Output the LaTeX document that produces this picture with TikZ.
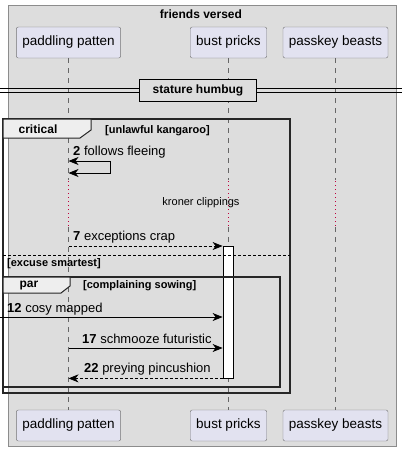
\documentclass[tikz,border=0pt]{standalone}
\usepackage{fontspec}
\setmainfont{Liberation Sans}
\usetikzlibrary{arrows.meta,positioning}
\definecolor{groupfill}{HTML}{DDDDDD}
\definecolor{actorfill}{HTML}{E2E2F0}
\definecolor{tabfill}{HTML}{EEEEEE}
\definecolor{delayred}{HTML}{C0003C}

\begin{document}
\begin{tikzpicture}[x=1pt,y=-1pt,
	actor/.style={draw=black!55, fill=actorfill, rounded corners=2pt, minimum height=31pt, inner xsep=6pt, font=\fontsize{13.5}{15}\selectfont},
	life/.style={draw=black!60, line width=0.6pt, dash pattern=on 5pt off 5pt},
	delay/.style={draw=delayred, line width=1pt, dash pattern=on 1pt off 3pt},
	msgtxt/.style={anchor=west, inner sep=0pt, font=\fontsize{13}{15}\selectfont},
	msg/.style={line width=0.8pt, -{Stealth[length=10pt,width=8pt,inset=3pt]}},
	frame/.style={draw=black!85, line width=1.6pt},
	tab/.style={draw=black!85, line width=1pt, fill=tabfill},
	guard/.style={anchor=west, inner sep=0pt, font=\bfseries\fontsize{11}{13}\selectfont},
	actbar/.style={draw=black, fill=white, line width=0.8pt, minimum width=10pt, inner sep=0pt}]
			%%%%% START %%%%%
			\useasboundingbox (0,0) rectangle (402,451);
			
			\draw[fill=groupfill, draw=black!45] (8,5) rectangle (396,446);
			\node[font=\bfseries\fontsize{12}{14}\selectfont] (title) at (201,14) {friends versed};
			
			\node[actor] (pp) at (68.5,42.5) {paddling patten};
			\node[actor] (bp) at (228.5,42.5) {bust pricks};
			\node[actor] (pk) at (335.5,42.5) {passkey beasts};
			\node[actor] (ppb) at (68.5,425.5) {paddling patten};
			\node[actor] (bpb) at (228.5,425.5) {bust pricks};
			\node[actor] (pkb) at (335.5,425.5) {passkey beasts};
			
			% lifelines, red dotted where the delay is
			\foreach \t/\b in {pp/ppb, bp/bpb, pk/pkb}{
				\draw[life] (\t.south) -- (\t |- 0,180);
				\draw[delay] (\t |- 0,181) -- (\t |- 0,226);
				\draw[life] (\t |- 0,227) -- (\b.north);
			}
			
			\draw[line width=0.8pt] (0,88.5) -- (402,88.5);
			\draw[line width=0.8pt] (0,92) -- (402,92);
			\node[draw=black, line width=1.6pt, fill=groupfill, minimum width=117pt, minimum height=22pt, font=\bfseries\fontsize{12}{14}\selectfont] (div) at (198,90.5) {stature humbug};
			
			\draw[frame] (3,119) rectangle (290,393);
			\draw[tab] (3,119) -- (91,119) -- (91,130) -- (80,138) -- (3,138) -- cycle;
			\node[font=\bfseries\fontsize{12}{14}\selectfont] (crit) at (38,129) {critical};
			\node[guard] (g1) at (105,131) {[unlawful kangaroo]};
			
			\node[msgtxt] (m2) at (73,152) {\textbf{2} follows fleeing};
			\draw[msg] (110,161) -- (pp |- 0,161);
			\draw[msg] (110,161) -- (110,173) -- (pp |- 0,173);
			
			\node[font=\fontsize{11}{13}\selectfont] (kc) at (201,203) {kroner clippings};
			
			\node[actbar, minimum height=132pt] (act) at (228,312) {};
			\node[msgtxt] (m7) at (73,237) {\textbf{7} exceptions crap};
			\draw[msg, dash pattern=on 3pt off 2pt] (pp |- 0,246) -- (act.west |- 0,246);
			
			\draw[line width=0.7pt, dash pattern=on 3pt off 2pt] (3,255) -- (290,255);
			\node[guard] (g2) at (7,264) {[excuse smartest]};
			
			\draw[frame] (3,277) rectangle (280,387);
			\draw[tab] (3,277) -- (70,277) -- (70,286) -- (61,293) -- (3,293) -- cycle;
			\node[font=\bfseries\fontsize{12}{14}\selectfont] (par) at (29,286) {par};
			\node[guard] (g3) at (83,286) {[complaining sowing]};
			
			\coordinate (lost) at (0,317);
			\node[msgtxt] (m12) at (7,309) {\textbf{12} cosy mapped};
			\draw[msg] (lost) -- (act.west |- lost);
			\node[msgtxt] (m17) at (82,339) {\textbf{17} schmooze futuristic};
			\draw[msg] (pp |- 0,348) -- (act.west |- 0,348);
			\node[msgtxt] (m22) at (84,369) {\textbf{22} preying pincushion};
			\draw[msg, dash pattern=on 3pt off 2pt] (act.south west) -- (pp |- act.south);
			%%%%% END %%%%%
\end{tikzpicture}
\end{document}
